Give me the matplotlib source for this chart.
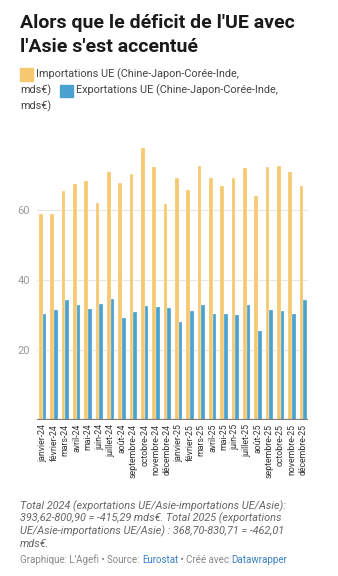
import numpy as np
import matplotlib
matplotlib.use("Agg")
import matplotlib.pyplot as plt
from matplotlib.patches import Rectangle

plt.rcParams['font.family'] = ['Roboto', 'DejaVu Sans']

months = [
    "janvier-24", "février-24", "mars-24", "avril-24", "mai-24", "juin-24",
    "juillet-24", "août-24", "septembre-24", "octobre-24", "novembre-24", "décembre-24",
    "janvier-25", "février-25", "mars-25", "avril-25", "mai-25", "juin-25",
    "juillet-25", "août-25", "septembre-25", "octobre-25", "novembre-25", "décembre-25",
]
imports_ue = [58.7, 58.7, 65.4, 67.3, 68.1, 62.0, 70.7, 67.5, 70.3, 77.5, 72.3, 61.5,
              69.1, 65.5, 72.6, 69.1, 66.7, 69.1, 71.8, 63.8, 72.2, 72.4, 70.9, 66.7]
exports_ue = [30.3, 31.4, 34.1, 32.9, 31.5, 33.0, 34.6, 29.1, 30.9, 32.4, 32.2, 32.0,
              28.0, 31.1, 32.9, 30.1, 30.3, 29.9, 32.9, 25.4, 31.4, 31.2, 30.1, 34.1]
y_ticks = [20, 40, 60]

title_lines = ["Alors que le déficit de l'UE avec", "l'Asie s'est accentué"]
label_imp = "Importations UE (Chine-Japon-Corée-Inde,"
label_exp = "Exportations UE (Chine-Japon-Corée-Inde,"
notes = [
    "Total 2024 (exportations UE/Asie-importations UE/Asie):",
    "393,62-800,90 = -415,29 mds€. Total 2025 (exportations",
    "UE/Asie-importations UE/Asie) : 368,70-830,71 = -462,01",
    "mds€.",
]

C_IMP = "#f6c86f"
C_EXP = "#4aa2d0"

W, H = 338, 576
fig = plt.figure(figsize=(W / 100, H / 100), dpi=100)
fig.patch.set_facecolor("white")


def fx(px):
    return px / W


def fy(py):
    return 1 - py / H


# plot area
ymax = 78
ax_top = 419.7 - ymax * 3.5
ax = fig.add_axes([fx(37), fy(419.7), fx(308) - fx(37), (419.7 - ax_top) / H])
x = np.arange(len(months))
bw = 0.327
ax.bar(x - bw / 2, imports_ue, width=bw, color=C_IMP, edgecolor="white", linewidth=0.2, zorder=2)
ax.bar(x + bw / 2, exports_ue, width=bw, color=C_EXP, edgecolor="white", linewidth=0.2, zorder=2)
ax.set_xlim(-0.5, 23.42)
ax.set_ylim(0, ymax)
for v in y_ticks:
    ax.axhline(v, color="#e6e6e6", linewidth=0.8, zorder=1)
ax.axhline(0, color="#7f7f7f", linewidth=1.6, zorder=3)
for s in ax.spines.values():
    s.set_visible(False)
ax.set_yticks(y_ticks)
ax.set_yticklabels([str(v) for v in y_ticks], color="#9a9a9a", fontsize=8)
ax.tick_params(axis="y", length=0, pad=5)
ax.set_xticks(x)
ax.set_xticklabels(months, rotation=90, fontsize=6.3, color="#333333")
ax.tick_params(axis="x", length=0, pad=3)

# title
for i, line in enumerate(title_lines):
    fig.text(fx(20), fy(28 + i * 24), line, fontsize=14.0,
             fontweight="bold", color="#1a1a1a", va="baseline")

# legend
fig.add_artist(Rectangle((fx(20), fy(80.7)), fx(12.5), 12.4 / H, color=C_IMP,
                         transform=fig.transFigure))
fig.text(fx(35.5), fy(74.5), label_imp, fontsize=7.8, color="#444444", va="center")
fig.text(fx(20), fy(90.5), "mds€)", fontsize=7.8, color="#444444", va="center")
fig.add_artist(Rectangle((fx(60), fy(97)), fx(12.5), 12.4 / H, color=C_EXP,
                         transform=fig.transFigure))
fig.text(fx(75.5), fy(90.5), label_exp, fontsize=7.8, color="#444444", va="center")
fig.text(fx(20), fy(106.5), "mds€)", fontsize=7.8, color="#444444", va="center")

# notes
for i, line in enumerate(notes):
    fig.text(fx(20), fy(506 + i * 12.7), line, fontsize=7.85, style="italic",
             color="#666666", va="center")

# credits
renderer = fig.canvas.get_renderer()
pieces = [("Graphique: L'Agefi • Source: ", "#888888"), ("Eurostat", "#3b7fc4"),
          (" • Créé avec ", "#888888"), ("Datawrapper", "#3b7fc4")]
cx = fx(20)
for txt, col in pieces:
    t = fig.text(cx, fy(560), txt, fontsize=7, color=col, va="center")
    bb = t.get_window_extent(renderer=renderer)
    cx += bb.width / fig.bbox.width

fig.savefig("out.png", dpi=100, facecolor="white")
